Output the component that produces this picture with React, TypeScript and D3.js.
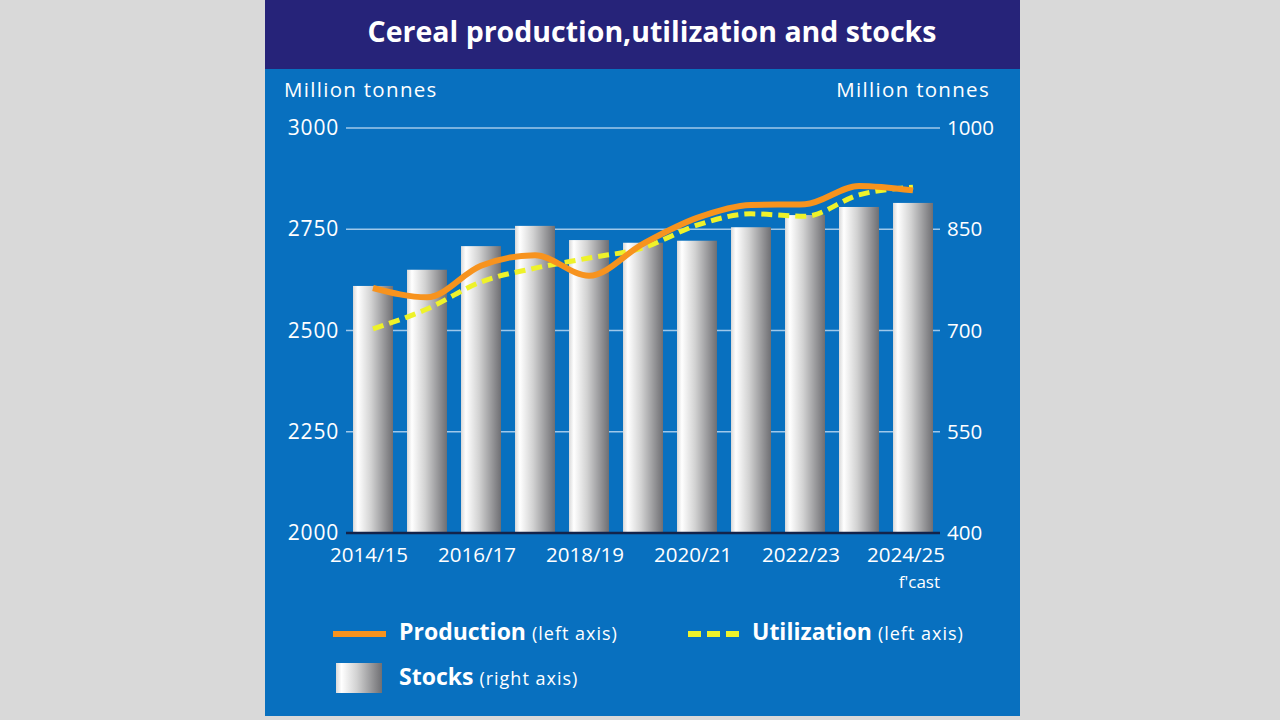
import React from "react";
import * as d3 from "d3";

const categories = ["2014/15","2015/16","2016/17","2017/18","2018/19","2019/20","2020/21","2021/22","2022/23","2023/24","2024/25"];
const production = [2605, 2582, 2660, 2686, 2635, 2714, 2778, 2810, 2812, 2857, 2846];
const utilization = [2504, 2553, 2620, 2654, 2679, 2704, 2760, 2788, 2782, 2835, 2854];
const stocks = [766, 790, 825, 855, 834, 830, 833, 853, 871, 883, 889];
const leftTicks = [2000, 2250, 2500, 2750, 3000];
const rightTicks = [400, 550, 700, 850, 1000];
const xLabels = ["2014/15","2016/17","2018/19","2020/21","2022/23","2024/25"];

const FONT = "'Open Sans', 'Noto Sans', sans-serif";

export default function App() {
  const W = 1280, H = 720;
  const panelX = 265, panelW = 755, panelH = 716;
  const x = d3.scaleBand<string>().domain(categories).range([346, 940]).paddingInner(0.26).paddingOuter(0.13);
  const yL = d3.scaleLinear().domain([2000, 3000]).range([533, 128]);
  const yR = d3.scaleLinear().domain([400, 1000]).range([533, 128]);
  const cx = (c: string) => (x(c) as number) + x.bandwidth() / 2;
  const line = d3.line<number>().x((_, i) => cx(categories[i])).y((d) => yL(d)).curve(d3.curveMonotoneX);

  return (
    <svg width={W} height={H} style={{ position: "absolute", left: 0, top: 0 }} fontFamily={FONT}>
      <defs>
        <linearGradient id="barGrad" x1="0" x2="1" y1="0" y2="0">
          <stop offset="0%" stopColor="#d9d9d9" />
          <stop offset="12%" stopColor="#ffffff" />
          <stop offset="45%" stopColor="#d2d2d2" />
          <stop offset="100%" stopColor="#6f6f73" />
        </linearGradient>
      </defs>
      <rect x={0} y={0} width={W} height={H} fill="#d9d9d9" />
      <rect x={panelX} y={0} width={panelW} height={panelH} fill="#0870bf" />
      <rect x={panelX} y={0} width={panelW} height={69} fill="#262379" />
      <text x={652} y={42} textAnchor="middle" fill="#ffffff" fontSize={28.5} fontWeight="bold">
        Cereal production,utilization and stocks
      </text>
      <text x={284} y={97} fill="#ffffff" fontSize={20.5} letterSpacing={1.3}>Million tonnes</text>
      <text x={990} y={97} textAnchor="end" fill="#ffffff" fontSize={20.5} letterSpacing={1.3}>Million tonnes</text>

      {leftTicks.map((t) => (
        <g key={"gl" + t}>
          {t !== 2000 && <line x1={346} x2={940} y1={yL(t)} y2={yL(t)} stroke="#9fc8ea" strokeWidth={1.5} />}
          <text x={339} y={yL(t) + 7} textAnchor="end" fill="#ffffff" fontSize={21} letterSpacing={0.8}>{t}</text>
        </g>
      ))}
      {rightTicks.map((t) => (
        <text key={"r" + t} x={947} y={yR(t) + 7} textAnchor="start" fill="#ffffff" fontSize={20.5}>{t}</text>
      ))}

      {categories.map((c, i) => (
        <rect key={c} x={x(c)} y={yR(stocks[i])} width={x.bandwidth()} height={533 - yR(stocks[i])} fill="url(#barGrad)" />
      ))}
      <line x1={346} x2={940} y1={533} y2={533} stroke="#13234a" strokeWidth={2.5} />

      <path d={line(utilization) || ""} fill="none" stroke="#eef22a" strokeWidth={5} strokeDasharray="11,6" />
      <path d={line(production) || ""} fill="none" stroke="#f7931e" strokeWidth={6} strokeLinejoin="round" />

      {xLabels.map((l, i) => (
        <text key={l} x={cx(l) - 4 - (i === xLabels.length - 1 ? 3 : 0)} y={562} textAnchor="middle" fill="#ffffff" fontSize={20.5}>{l}</text>
      ))}
      <text x={940} y={588} textAnchor="end" fill="#ffffff" fontSize={17}>f'cast</text>

      <line x1={333} x2={386} y1={634} y2={634} stroke="#f7931e" strokeWidth={6} />
      <text x={399} y={640} fill="#ffffff" fontSize={23} fontWeight="bold">Production <tspan fontSize={18} fontWeight="normal" letterSpacing={1}>(left axis)</tspan></text>
      <line x1={688} x2={741} y1={634} y2={634} stroke="#eef22a" strokeWidth={6} strokeDasharray="13,6" />
      <text x={752} y={640} fill="#ffffff" fontSize={23} fontWeight="bold">Utilization <tspan fontSize={18} fontWeight="normal" letterSpacing={1}>(left axis)</tspan></text>
      <rect x={336} y={663} width={46} height={30} fill="url(#barGrad)" />
      <text x={399} y={685} fill="#ffffff" fontSize={23} fontWeight="bold">Stocks <tspan fontSize={18} fontWeight="normal" letterSpacing={1}>(right axis)</tspan></text>
    </svg>
  );
}
